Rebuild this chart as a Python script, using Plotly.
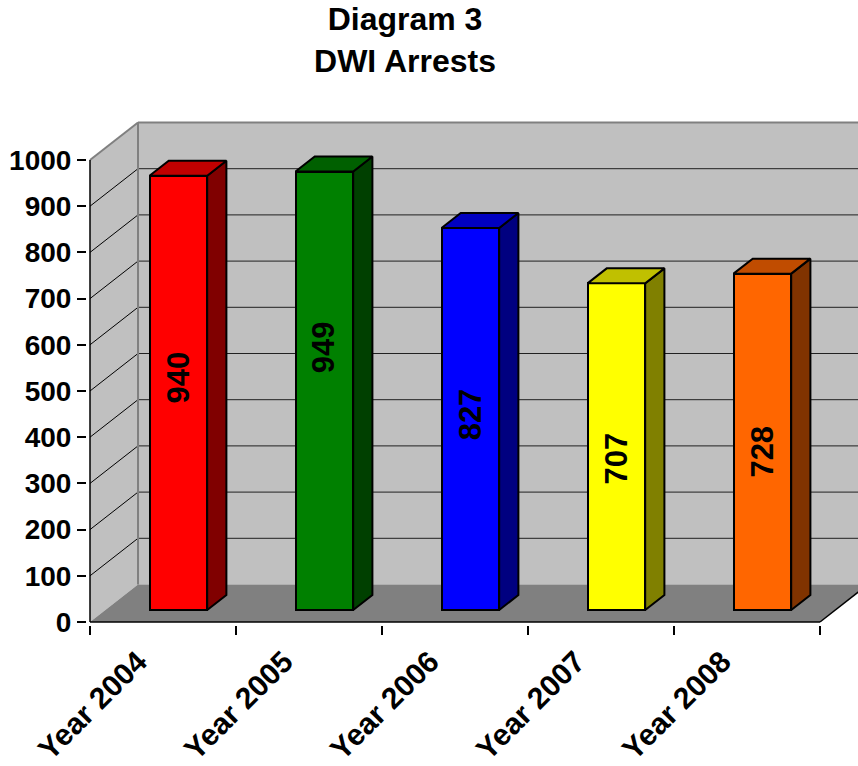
import plotly.graph_objects as go

# ---------------- data ----------------
categories = ["Year 2004", "Year 2005", "Year 2006", "Year 2007", "Year 2008"]
arrests = [940, 949, 827, 707, 728]
y_ticks = [0, 100, 200, 300, 400, 500, 600, 700, 800, 900, 1000]

# ---------------- styling ----------------
front_colors = ["#FF0000", "#008000", "#0000FF", "#FFFF00", "#FF6600"]
top_colors = ["#C00000", "#006000", "#0000C0", "#C0C000", "#C04C00"]
side_colors = ["#800000", "#004000", "#000080", "#808000", "#803300"]
label_frac = [0.536, 0.600, 0.513, 0.465, 0.472]   # vertical placement of the value labels

FONT = "Liberation Sans, Arial, sans-serif"
W, H = 858, 766
PX_CAT = 146.0          # pixels per category
PX_UNIT = 0.462         # pixels per value unit
X0_PX, Y0_PX = 90, 622  # pixel of (category -0.5, value 0) on front plane
DEPTH_PX = (48.0, 37.5)
PLOT_L, PLOT_T, PLOT_B = 87, 118, 625
LABEL_SHIFT = 0.17      # category-label offset to the left

x_lo = -0.5 - (X0_PX - PLOT_L) / PX_CAT
x_hi = -0.5 + (W - X0_PX) / PX_CAT
y_lo = -(PLOT_B - Y0_PX) / PX_UNIT
y_hi = (Y0_PX - PLOT_T) / PX_UNIT
DX = DEPTH_PX[0] / PX_CAT
DY = DEPTH_PX[1] / PX_UNIT

n = len(categories)
xL, xR = -0.5, n - 0.5
ymax = max(y_ticks)

F0, F1 = 0.32, 0.72   # bar depth (front / back) as fraction of full depth
BW = 0.395            # bar width in category units


def path(pts):
    return "M " + " L ".join(f"{x},{y}" for x, y in pts) + " Z"


shapes = []
# walls and floor
shapes.append(dict(type="path", layer="below", xref="x", yref="y", line=dict(width=0),
                   fillcolor="#C0C0C0",
                   path=path([(xL + DX, DY), (xR + DX, DY), (xR + DX, ymax + DY), (xL + DX, ymax + DY)])))
shapes.append(dict(type="path", layer="below", xref="x", yref="y", line=dict(width=0),
                   fillcolor="#C0C0C0",
                   path=path([(xL, 0), (xL + DX, DY), (xL + DX, ymax + DY), (xL, ymax)])))
shapes.append(dict(type="path", layer="below", xref="x", yref="y", line=dict(width=0),
                   fillcolor="#808080",
                   path=path([(xL, 0), (xR, 0), (xR + DX, DY), (xL + DX, DY)])))
# gridlines
for v in y_ticks[1:-1]:
    shapes.append(dict(type="line", layer="below", xref="x", yref="y",
                       x0=xL + DX, y0=v + DY, x1=xR + DX, y1=v + DY,
                       line=dict(color="#202020", width=1)))
    shapes.append(dict(type="line", layer="below", xref="x", yref="y",
                       x0=xL, y0=v, x1=xL + DX, y1=v + DY,
                       line=dict(color="#000000", width=1)))
# wall edges (gray)
for (a, b) in [((xL, ymax), (xL + DX, ymax + DY)),
               ((xL + DX, ymax + DY), (xR + DX, ymax + DY)),
               ((xL + DX, DY), (xL + DX, ymax + DY))]:
    shapes.append(dict(type="line", layer="below", xref="x", yref="y",
                       x0=a[0], y0=a[1], x1=b[0], y1=b[1],
                       line=dict(color="#808080", width=2)))
# black axis edges
for (a, b) in [((xL, 0), (xL, ymax)), ((xL, 0), (xR, 0)), ((xR, 0), (xR + DX, DY))]:
    shapes.append(dict(type="line", layer="below", xref="x", yref="y",
                       x0=a[0], y0=a[1], x1=b[0], y1=b[1],
                       line=dict(color="#000000", width=1.5)))

fig = go.Figure()

xc = [i + F0 * DX for i in range(n)]
base = F0 * DY
fig.add_trace(go.Bar(x=xc, y=arrests, base=[base] * n, width=BW,
                     marker=dict(color=front_colors, line=dict(color="black", width=2)),
                     hoverinfo="skip", showlegend=False))

dd = F1 - F0
for i, v in enumerate(arrests):
    xl, xr = xc[i] - BW / 2, xc[i] + BW / 2
    top = base + v
    # side face
    sx = [xr, xr, xr + dd * DX, xr + dd * DX, xr]
    sy = [base, top, top + dd * DY, base + dd * DY, base]
    fig.add_trace(go.Scatter(x=sx, y=sy, mode="lines", fill="toself",
                             fillcolor=side_colors[i], line=dict(color="black", width=2),
                             hoverinfo="skip", showlegend=False))
    # top face
    tx = [xl, xr, xr + dd * DX, xl + dd * DX, xl]
    ty = [top, top, top + dd * DY, top + dd * DY, top]
    fig.add_trace(go.Scatter(x=tx, y=ty, mode="lines", fill="toself",
                             fillcolor=top_colors[i], line=dict(color="black", width=2),
                             hoverinfo="skip", showlegend=False))

annotations = []
for i, v in enumerate(arrests):
    annotations.append(dict(x=xc[i], y=base + v * label_frac[i], xref="x", yref="y",
                            text=str(v), textangle=-90, showarrow=False,
                            font=dict(family=FONT, size=31, color="black", weight="bold")))

fig.update_layout(
    width=W, height=H,
    margin=dict(l=PLOT_L, r=0, t=PLOT_T, b=H - PLOT_B, pad=0, autoexpand=False),
    paper_bgcolor="white", plot_bgcolor="white",
    title=dict(text="Diagram 3<br>DWI Arrests", x=405 / W, xanchor="center",
               y=1 - 30 / H, yanchor="top", automargin=False,
               font=dict(family=FONT, size=32, color="black", weight="bold")),
    shapes=shapes, annotations=annotations,
    bargap=0,
    xaxis=dict(range=[x_lo, x_hi], showgrid=False, zeroline=False, showline=False,
               automargin=False,
               tickvals=[i - LABEL_SHIFT for i in range(n)], ticktext=categories,
               tickangle=-45, ticks="", ticklabelstandoff=12,
               tickfont=dict(family=FONT, size=30, color="black", weight="bold"),
               minor=dict(tickvals=[i - 0.5 for i in range(n + 1)], ticks="outside",
                          ticklen=9, tickcolor="black", tickwidth=1.5, showgrid=False),
               fixedrange=True),
    yaxis=dict(range=[y_lo, y_hi], showgrid=False, zeroline=False, showline=False,
               automargin=False,
               tickvals=y_ticks, ticks="outside", ticklen=9, tickcolor="black", tickwidth=1.5,
               tickfont=dict(family=FONT, size=28, color="black", weight="bold"),
               fixedrange=True),
)

fig.write_html("out.html", config={"displayModeBar": False},
               post_script="document.body.style.margin='0';document.body.style.overflow='hidden';")
